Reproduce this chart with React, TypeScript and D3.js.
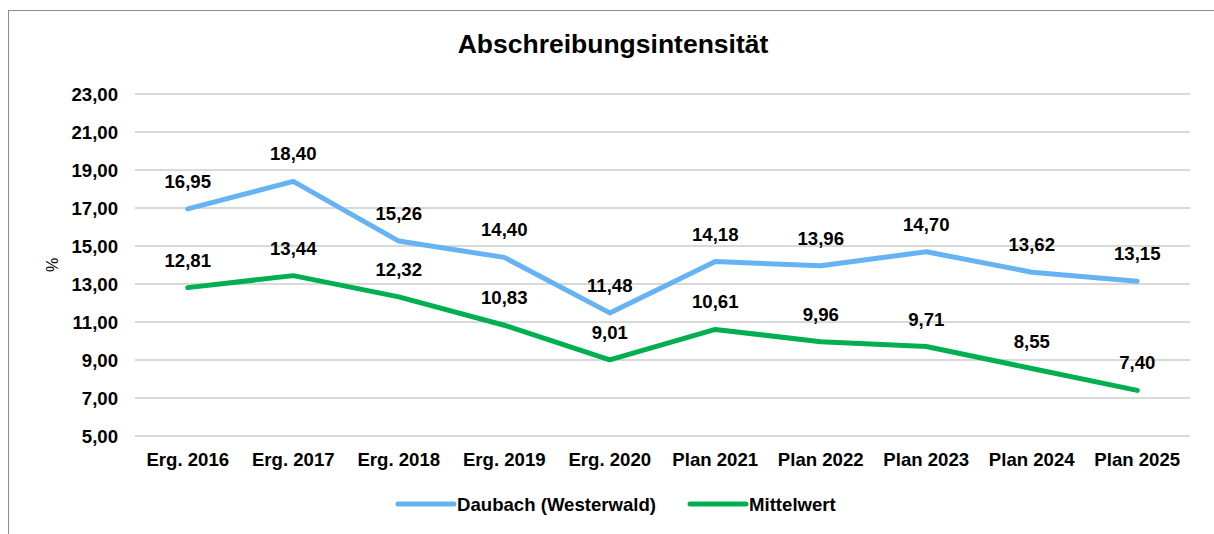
import * as d3 from 'd3';
import React, { useRef, useEffect } from 'react';

const categories = ['Erg. 2016', 'Erg. 2017', 'Erg. 2018', 'Erg. 2019', 'Erg. 2020', 'Plan 2021', 'Plan 2022', 'Plan 2023', 'Plan 2024', 'Plan 2025'];
const daubach = [16.95, 18.40, 15.26, 14.40, 11.48, 14.18, 13.96, 14.70, 13.62, 13.15];
const mittelwert = [12.81, 13.44, 12.32, 10.83, 9.01, 10.61, 9.96, 9.71, 8.55, 7.40];
const yTicks = [5, 7, 9, 11, 13, 15, 17, 19, 21, 23];

const seriesList = [
  { name: 'Daubach (Westerwald)', values: daubach, color: '#65B3F3' },
  { name: 'Mittelwert', values: mittelwert, color: '#00B050' },
];

const fmt = (v: number) => v.toFixed(2).replace('.', ',');

function App() {
  const ref = useRef<SVGSVGElement>(null);

  useEffect(() => {
    const width = 1214;
    const height = 534;
    const font = '"Liberation Sans", Arial, sans-serif';
    const fs = 18.6;
    const svg = d3.select(ref.current);
    svg.selectAll('*').remove();

    svg.append('rect').attr('width', width).attr('height', height).attr('fill', '#fff');
    // outer frame (runs off right/bottom edge)
    svg.append('rect')
      .attr('x', 8.5).attr('y', 10.5)
      .attr('width', 1240).attr('height', 560)
      .attr('fill', 'none').attr('stroke', '#8c8c8c').attr('stroke-width', 1);

    const x = d3.scaleBand<string>().domain(categories).range([135, 1190]);
    const y = d3.scaleLinear().domain([5, 23]).range([436, 94]);

    svg.append('text')
      .attr('x', 613).attr('y', 53)
      .attr('text-anchor', 'middle')
      .attr('font-family', font).attr('font-weight', 'bold').attr('font-size', 26.5)
      .text('Abschreibungsintensität');

    // grid
    svg.append('g')
      .selectAll('line')
      .data(yTicks)
      .enter().append('line')
      .attr('x1', 135).attr('x2', 1190)
      .attr('y1', d => y(d)).attr('y2', d => y(d))
      .attr('stroke', '#d9d9d9').attr('stroke-width', 2);

    // y tick labels
    svg.append('g')
      .selectAll('text')
      .data(yTicks)
      .enter().append('text')
      .attr('x', 118).attr('y', d => y(d) + 6.5)
      .attr('text-anchor', 'end')
      .attr('font-family', font).attr('font-weight', 'bold').attr('font-size', fs)
      .text(d => fmt(d));

    svg.append('text')
      .attr('transform', 'translate(58,265) rotate(-90)')
      .attr('text-anchor', 'middle')
      .attr('font-family', font).attr('font-size', 16)
      .text('%');

    // x labels
    svg.append('g')
      .selectAll('text')
      .data(categories)
      .enter().append('text')
      .attr('x', d => x(d)! + x.bandwidth() / 2).attr('y', 466)
      .attr('text-anchor', 'middle')
      .attr('font-family', font).attr('font-weight', 'bold').attr('font-size', fs)
      .text(d => d);

    const line = d3.line<number>()
      .x((d, i) => x(categories[i])! + x.bandwidth() / 2)
      .y(d => y(d));

    seriesList.forEach(s => {
      svg.append('path')
        .datum(s.values)
        .attr('d', line)
        .attr('fill', 'none')
        .attr('stroke', s.color).attr('stroke-width', 5)
        .attr('stroke-linejoin', 'round').attr('stroke-linecap', 'round');
    });

    seriesList.forEach(s => {
      svg.append('g')
        .selectAll('text')
        .data(s.values)
        .enter().append('text')
        .attr('x', (d, i) => x(categories[i])! + x.bandwidth() / 2)
        .attr('y', d => y(d) - 21)
        .attr('text-anchor', 'middle')
        .attr('font-family', font).attr('font-weight', 'bold').attr('font-size', fs)
        .text(d => fmt(d));
    });

    // legend
    const legendX = [398, 690];
    seriesList.forEach((s, i) => {
      const g = svg.append('g').attr('transform', `translate(${legendX[i]},504)`);
      g.append('line')
        .attr('x1', 0).attr('x2', 56).attr('y1', 0).attr('y2', 0)
        .attr('stroke', s.color).attr('stroke-width', 5).attr('stroke-linecap', 'round');
      g.append('text')
        .attr('x', 59).attr('y', 6.5)
        .attr('font-family', font).attr('font-weight', 'bold').attr('font-size', fs)
        .text(s.name);
    });
  }, []);

  return (
    <div style={{ position: 'absolute', left: 0, top: 0 }}>
      <svg ref={ref} width={1214} height={534} style={{ display: 'block' }}></svg>
    </div>
  );
}

export default App;
